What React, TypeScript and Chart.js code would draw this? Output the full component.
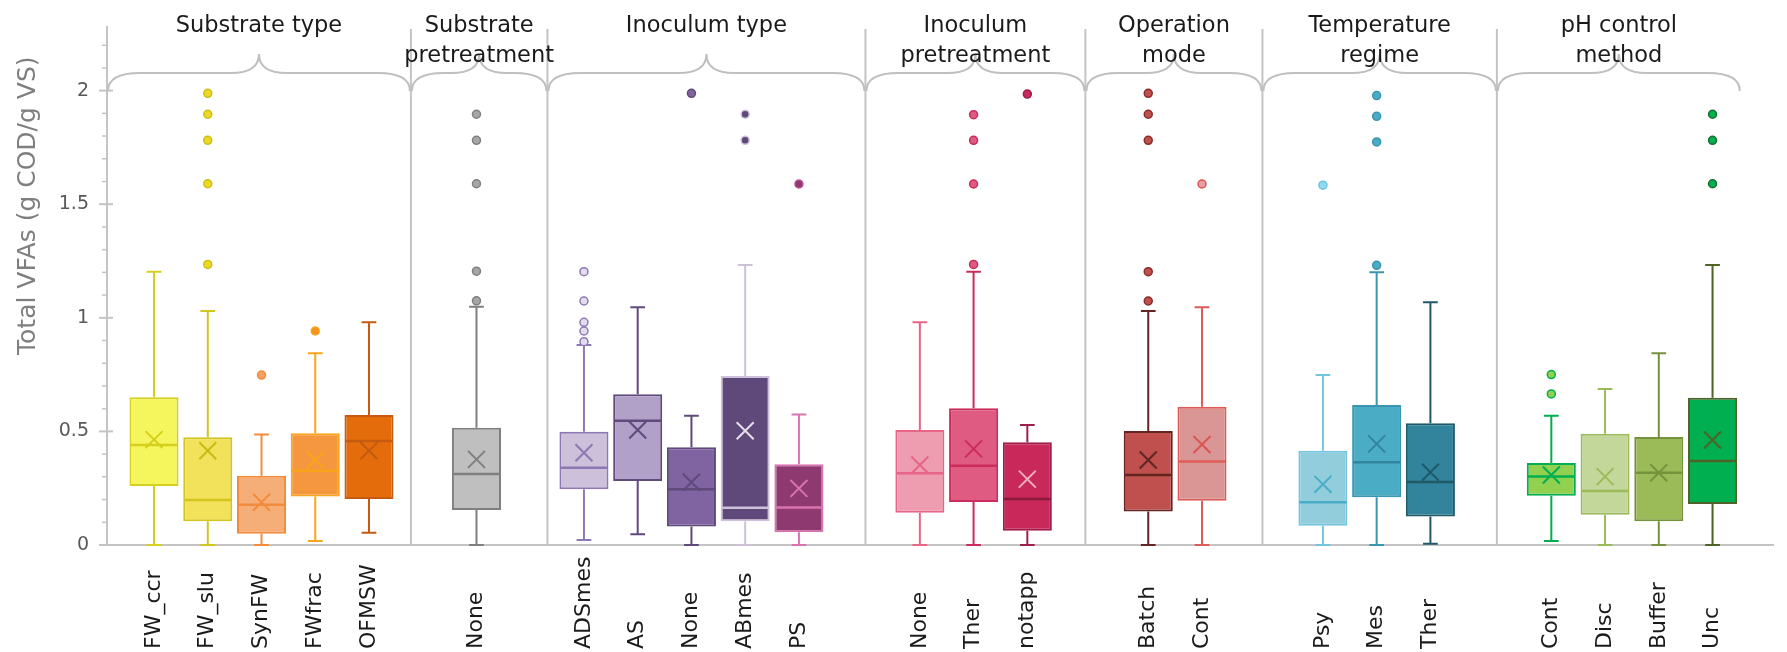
import React, { useEffect, useRef } from 'react';
import { Chart, registerables } from 'chart.js';

Chart.register(...registerables);

// ---------------- data ----------------
const groupTitles: string[][] = [
  ['Substrate type'],
  ['Substrate', 'pretreatment'],
  ['Inoculum type'],
  ['Inoculum', 'pretreatment'],
  ['Operation', 'mode'],
  ['Temperature', 'regime'],
  ['pH control', 'method'],
];
const groupSizes = [5, 1, 5, 3, 2, 3, 4];
const categories = [
  'FW_ccr', 'FW_slu', 'SynFW', 'FWfrac', 'OFMSW',
  'None',
  'ADSmes', 'AS', 'None', 'ABmes', 'PS',
  'None', 'Ther', 'notapp',
  'Batch', 'Cont',
  'Psy', 'Mes', 'Ther',
  'Cont', 'Disc', 'Buffer', 'Unc',
];
const whiskerLow = [0, 0, 0, 0.018, 0.054, 0, 0.022, 0.047, 0, 0, 0, 0, 0, 0, 0, 0, 0, 0, 0.005, 0.018, 0, 0, 0];
const q1 = [0.26, 0.104, 0.05, 0.213, 0.202, 0.154, 0.245, 0.282, 0.081, 0.104, 0.056, 0.142, 0.189, 0.063, 0.147, 0.195, 0.085, 0.21, 0.125, 0.217, 0.133, 0.104, 0.18];
const median = [0.44, 0.198, 0.177, 0.327, 0.458, 0.312, 0.34, 0.547, 0.245, 0.164, 0.165, 0.316, 0.349, 0.202, 0.308, 0.367, 0.188, 0.364, 0.277, 0.302, 0.238, 0.318, 0.37];
const q3 = [0.65, 0.474, 0.305, 0.492, 0.572, 0.516, 0.499, 0.663, 0.43, 0.744, 0.355, 0.506, 0.602, 0.452, 0.502, 0.609, 0.415, 0.616, 0.536, 0.361, 0.49, 0.475, 0.648];
const whiskerHigh = [1.203, 1.03, 0.486, 0.844, 0.98, 1.049, 0.88, 1.046, 0.569, 1.232, 0.574, 0.98, 1.203, 0.528, 1.03, 1.046, 0.748, 1.2, 1.068, 0.569, 0.687, 0.844, 1.232];
const mean = [0.464, 0.415, 0.188, 0.374, 0.415, 0.377, 0.406, 0.506, 0.276, 0.503, 0.249, 0.352, 0.423, 0.29, 0.374, 0.442, 0.267, 0.445, 0.32, 0.308, 0.301, 0.318, 0.462];
const outliers: number[][] = [
  [], [1.988, 1.896, 1.781, 1.59, 1.235], [0.748], [0.942], [],
  [1.896, 1.781, 1.59, 1.205, 1.075],
  [1.203, 1.074, 0.98, 0.942, 0.895], [], [1.988], [1.896, 1.781], [1.589],
  [], [1.894, 1.781, 1.589, 1.235], [1.985],
  [1.988, 1.896, 1.781, 1.203, 1.074], [1.589],
  [1.584], [1.978, 1.887, 1.774, 1.231], [],
  [0.75, 0.665], [], [], [1.896, 1.781, 1.59],
];
const yTickValues = [0, 0.5, 1, 1.5, 2];
const yTitle = 'Total VFAs (g COD/g VS)';

// ---------------- styles ----------------
const boxFill = ['#F5F55E', '#F2E15B', '#F6AE78', '#F4973F', '#E46C0A', '#BFBFBF', '#CCC0DA', '#B1A0C7', '#8064A2', '#5F497A', '#8E3A70', '#EE9DB1', '#DF5B82', '#C8285A', '#C0504D', '#DA9694', '#92CDDC', '#4BACC6', '#31849B', '#92D050', '#C4D79B', '#9BBB59', '#00B050'];
const boxLine = ['#D6CF1C', '#D2C51E', '#F28C3C', '#F8A51C', '#C55A11', '#7F7F7F', '#8E78B4', '#604A7B', '#5F497A', '#CCC0DA', '#D873B0', '#E8658A', '#CC2C5C', '#A01E4A', '#632523', '#DE5B58', '#74C6E0', '#3A96B0', '#215968', '#00B050', '#9BBB59', '#76923C', '#4F6228'];
const medianLine = ['#D6CF1C', '#D2C51E', '#F28C3C', '#F8A51C', '#C55A11', '#7F7F7F', '#8E78B4', '#604A7B', '#5F497A', '#CCC0DA', '#D873B0', '#E8658A', '#CC2C5C', '#8A1A3E', '#632523', '#DE5B58', '#4BACC6', '#31859C', '#215968', '#00B050', '#9BBB59', '#76923C', '#4F6228'];
const meanLine = ['#D6CF1C', '#C8BC10', '#F28C3C', '#F8A51C', '#C55A11', '#7F7F7F', '#8E78B4', '#604A7B', '#5F497A', '#E6E0EC', '#D873B0', '#E8658A', '#CC2C5C', '#F2B0C4', '#632523', '#D9534F', '#4BACC6', '#31859C', '#215968', '#00B050', '#9BBB59', '#76923C', '#4F6228'];
const outlierFill = ['#F5F55E', '#EBD829', '#F6A064', '#F7941D', '#E46C0A', '#A6A6A6', '#E4DCEE', '#B1A0C7', '#8064A2', '#5F497A', '#8E3A70', '#EE9DB1', '#DF5B82', '#C8285A', '#C0504D', '#E6A0A0', '#92D8EE', '#4BACC6', '#31849B', '#92D050', '#C4D79B', '#9BBB59', '#00B050'];
const outlierLine = ['#D6CF1C', '#CDBF10', '#F28C3C', '#F8A51C', '#C55A11', '#808080', '#8E78B4', '#604A7B', '#5F497A', '#CCC0DA', '#C05098', '#E8658A', '#CC2C5C', '#9C1C46', '#8B2B28', '#D9534F', '#6EC2DE', '#3A96B0', '#215968', '#00B050', '#9BBB59', '#76923C', '#1E6E34'];

const FONT = 'DejaVu Sans';
const GREY_LINE = '#c4c4c4';

// ---------------- layout (slot grid of the category axis) ----------------
const LAYOUT = {
  lead: 3,
  step: 4,
  gaps: [8, 8, 9, 9, 9, 9],
  slots: 124,
  sepFrac: [0.39, 0.66, 0.55, 0.48, 0.5, 0.55],
  tail: 2.1,
};

function buildSlots() {
  const slotOf: number[] = [];
  const groupLast: number[] = [];
  let cur = LAYOUT.lead;
  groupSizes.forEach((n, g) => {
    if (g > 0) cur = groupLast[g - 1] + LAYOUT.gaps[g - 1];
    for (let i = 0; i < n; i++) {
      slotOf.push(cur);
      if (i < n - 1) cur += LAYOUT.step;
    }
    groupLast.push(cur);
  });
  const bounds: number[] = [];
  for (let g = 0; g < groupSizes.length - 1; g++) {
    bounds.push(groupLast[g] + LAYOUT.sepFrac[g] * LAYOUT.gaps[g]);
  }
  const end = groupLast[groupLast.length - 1] + LAYOUT.tail;
  return { slotOf, bounds, end };
}

function drawBrace(ctx: CanvasRenderingContext2D, x0: number, x1: number) {
  const yTip = 91, yFlat = 73, yPeak = 54, rEnd = 32, rMid = 28;
  const xm = (x0 + x1) / 2;
  ctx.beginPath();
  ctx.moveTo(x0, yTip);
  ctx.quadraticCurveTo(x0, yFlat, x0 + rEnd, yFlat);
  ctx.lineTo(xm - rMid, yFlat);
  ctx.quadraticCurveTo(xm, yFlat, xm, yPeak);
  ctx.quadraticCurveTo(xm, yFlat, xm + rMid, yFlat);
  ctx.lineTo(x1 - rEnd, yFlat);
  ctx.quadraticCurveTo(x1, yFlat, x1, yTip);
  ctx.stroke();
}

export default function App() {
  const ref = useRef<HTMLCanvasElement>(null);

  useEffect(() => {
    const canvas = ref.current;
    if (!canvas) return;
    const { slotOf, bounds, end } = buildSlots();
    const N = LAYOUT.slots;

    const labels: string[] = Array(N).fill('');
    const boxData: any[] = Array(N).fill(null);
    const meanData: (number | null)[] = Array(N).fill(null);
    const fillArr: string[] = Array(N).fill('rgba(0,0,0,0)');
    const lineArr: string[] = Array(N).fill('rgba(0,0,0,0)');
    const meanArr: string[] = Array(N).fill('rgba(0,0,0,0)');
    const oFillArr: string[] = Array(N).fill('rgba(0,0,0,0)');
    const oLineArr: string[] = Array(N).fill('rgba(0,0,0,0)');
    slotOf.forEach((s, b) => {
      labels[s] = categories[b];
      boxData[s] = [q1[b], q3[b]];
      meanData[s] = mean[b];
      fillArr[s] = boxFill[b];
      lineArr[s] = boxLine[b];
      meanArr[s] = meanLine[b];
      oFillArr[s] = outlierFill[b];
      oLineArr[s] = outlierLine[b];
    });
    const maxOut = Math.max(...outliers.map((o) => o.length));
    const outlierSets = [];
    for (let k = 0; k < maxOut; k++) {
      const d: (number | null)[] = Array(N).fill(null);
      slotOf.forEach((s, b) => {
        if (outliers[b].length > k) d[s] = outliers[b][k];
      });
      outlierSets.push({
        type: 'line' as const,
        data: d,
        showLine: false,
        pointStyle: 'circle',
        pointRadius: 4,
        pointBorderWidth: 1.5,
        pointBackgroundColor: oFillArr,
        pointBorderColor: oLineArr,
        order: 2,
      });
    }

    const decor = {
      id: 'decor',
      beforeDatasetsDraw(chart: any) {
        const ctx: CanvasRenderingContext2D = chart.ctx;
        const xs = chart.scales.x;
        const ys = chart.scales.y;
        const area = chart.chartArea;
        ctx.save();
        // y-axis tick marks
        ctx.strokeStyle = GREY_LINE;
        ctx.lineWidth = 2;
        yTickValues.forEach((v) => {
          const y = ys.getPixelForValue(v);
          ctx.beginPath();
          ctx.moveTo(area.left - 8, y);
          ctx.lineTo(area.left + 6, y);
          ctx.stroke();
        });
        ctx.lineWidth = 1.5;
        for (let i = 1; i * 0.1 < ys.max; i++) {
          if (i % 5 === 0) continue;
          const y = ys.getPixelForValue(i * 0.1);
          ctx.beginPath();
          ctx.moveTo(area.left - 5, y);
          ctx.lineTo(area.left, y);
          ctx.stroke();
        }
        // separators
        ctx.lineWidth = 2;
        const sepPx = bounds.map((b) => xs.getPixelForValue(b));
        sepPx.forEach((x) => {
          ctx.beginPath();
          ctx.moveTo(x, area.top + 2);
          ctx.lineTo(x, area.bottom);
          ctx.stroke();
        });
        // braces + titles
        const edges = [area.left, ...sepPx, xs.getPixelForValue(end)];
        ctx.strokeStyle = '#bfbfbf';
        ctx.lineWidth = 2;
        ctx.fillStyle = '#1a1a1a';
        ctx.font = `22.5px "${FONT}"`;
        ctx.textAlign = 'center';
        ctx.textBaseline = 'alphabetic';
        for (let g = 0; g < groupTitles.length; g++) {
          const x0 = edges[g] + 1, x1 = edges[g + 1] - 1;
          drawBrace(ctx, x0, x1);
          const xm = (edges[g] + edges[g + 1]) / 2;
          groupTitles[g].forEach((t, li) => {
            ctx.fillText(t, xm, 32 + li * 30);
          });
        }
        // category labels (rotated, starting at the bottom)
        ctx.font = `22px "${FONT}"`;
        ctx.textAlign = 'left';
        ctx.textBaseline = 'middle';
        slotOf.forEach((s, b) => {
          const x = xs.getPixelForValue(s);
          ctx.save();
          ctx.translate(x, chart.height - 3);
          ctx.rotate(-Math.PI / 2);
          ctx.fillText(categories[b], 0, 0);
          ctx.restore();
        });
        // y title
        ctx.fillStyle = '#7f7f7f';
        ctx.font = `25px "${FONT}"`;
        ctx.textAlign = 'center';
        ctx.save();
        ctx.translate(28, area.top + (area.bottom - area.top) * 0.345);
        ctx.rotate(-Math.PI / 2);
        ctx.fillText(yTitle, 0, 0);
        ctx.restore();
        ctx.restore();
      },
      beforeDatasetDraw(chart: any, args: any) {
        if (args.index !== 0) return;
        const ctx: CanvasRenderingContext2D = chart.ctx;
        const xs = chart.scales.x;
        const ys = chart.scales.y;
        const meta = chart.getDatasetMeta(0);
        ctx.save();
        ctx.lineWidth = 2;
        slotOf.forEach((s, b) => {
          const x = xs.getPixelForValue(s);
          const w = meta.data[s].width;
          const cap = w * 0.15;
          ctx.strokeStyle = boxLine[b];
          const yHi = ys.getPixelForValue(whiskerHigh[b]);
          const yLo = ys.getPixelForValue(whiskerLow[b]);
          ctx.beginPath();
          ctx.moveTo(x, ys.getPixelForValue(q3[b]));
          ctx.lineTo(x, yHi);
          ctx.moveTo(x - cap, yHi);
          ctx.lineTo(x + cap, yHi);
          ctx.moveTo(x, ys.getPixelForValue(q1[b]));
          ctx.lineTo(x, yLo);
          ctx.moveTo(x - cap, yLo);
          ctx.lineTo(x + cap, yLo);
          ctx.stroke();
        });
        ctx.restore();
      },
      afterDatasetDraw(chart: any, args: any) {
        if (args.index !== 0) return;
        const ctx: CanvasRenderingContext2D = chart.ctx;
        const xs = chart.scales.x;
        const ys = chart.scales.y;
        const meta = chart.getDatasetMeta(0);
        ctx.save();
        ctx.lineWidth = 2.5;
        slotOf.forEach((s, b) => {
          const x = xs.getPixelForValue(s);
          const w = meta.data[s].width;
          const y = ys.getPixelForValue(median[b]);
          ctx.strokeStyle = medianLine[b];
          ctx.beginPath();
          ctx.moveTo(x - w / 2 + 1, y);
          ctx.lineTo(x + w / 2 - 1, y);
          ctx.stroke();
        });
        ctx.restore();
      },
    };

    const chart = new Chart(canvas, {
      type: 'bar',
      data: {
        labels,
        datasets: [
          {
            type: 'bar',
            data: boxData,
            backgroundColor: fillArr,
            borderColor: lineArr,
            borderWidth: 2,
            borderSkipped: false,
            barPercentage: 3.65,
            categoryPercentage: 1,
            grouped: false,
            order: 3,
          } as any,
          ...outlierSets,
          {
            type: 'line',
            data: meanData,
            showLine: false,
            pointStyle: 'crossRot',
            pointRadius: 12,
            pointBorderWidth: 2,
            pointBorderColor: meanArr,
            pointBackgroundColor: 'rgba(0,0,0,0)',
            order: 1,
          } as any,
        ],
      },
      options: {
        responsive: false,
        maintainAspectRatio: false,
        animation: false,
        devicePixelRatio: 1,
        events: [],
        layout: { padding: { top: 27, left: 0, right: 0, bottom: 0 } },
        plugins: { legend: { display: false }, tooltip: { enabled: false } },
        scales: {
          x: {
            type: 'category',
            offset: true,
            grid: { display: false, drawTicks: false },
            ticks: { display: false, autoSkip: false },
            border: { display: true, color: GREY_LINE, width: 2 },
            afterFit(s: any) {
              s.height = 107;
              s.paddingLeft = 0;
              s.paddingRight = 0;
            },
          },
          y: {
            type: 'linear',
            min: 0,
            max: 2.28,
            grid: { display: false, drawTicks: false },
            border: { display: true, color: GREY_LINE, width: 2 },
            ticks: {
              padding: 18,
              color: '#595959',
              font: { family: FONT, size: 19 },
              callback: (v: any) => String(v),
            },
            afterBuildTicks(s: any) {
              s.ticks = yTickValues.map((v) => ({ value: v }));
            },
            afterFit(s: any) {
              s.width = 107;
              s.paddingTop = 0;
              s.paddingBottom = 0;
            },
          },
        },
      } as any,
      plugins: [decor],
    });
    return () => chart.destroy();
  }, []);

  return (
    <div style={{ position: 'absolute', left: 0, top: 0, width: 1787, height: 652, background: '#fff' }}>
      <canvas ref={ref} width={1787} height={652} style={{ display: 'block' }} />
    </div>
  );
}
